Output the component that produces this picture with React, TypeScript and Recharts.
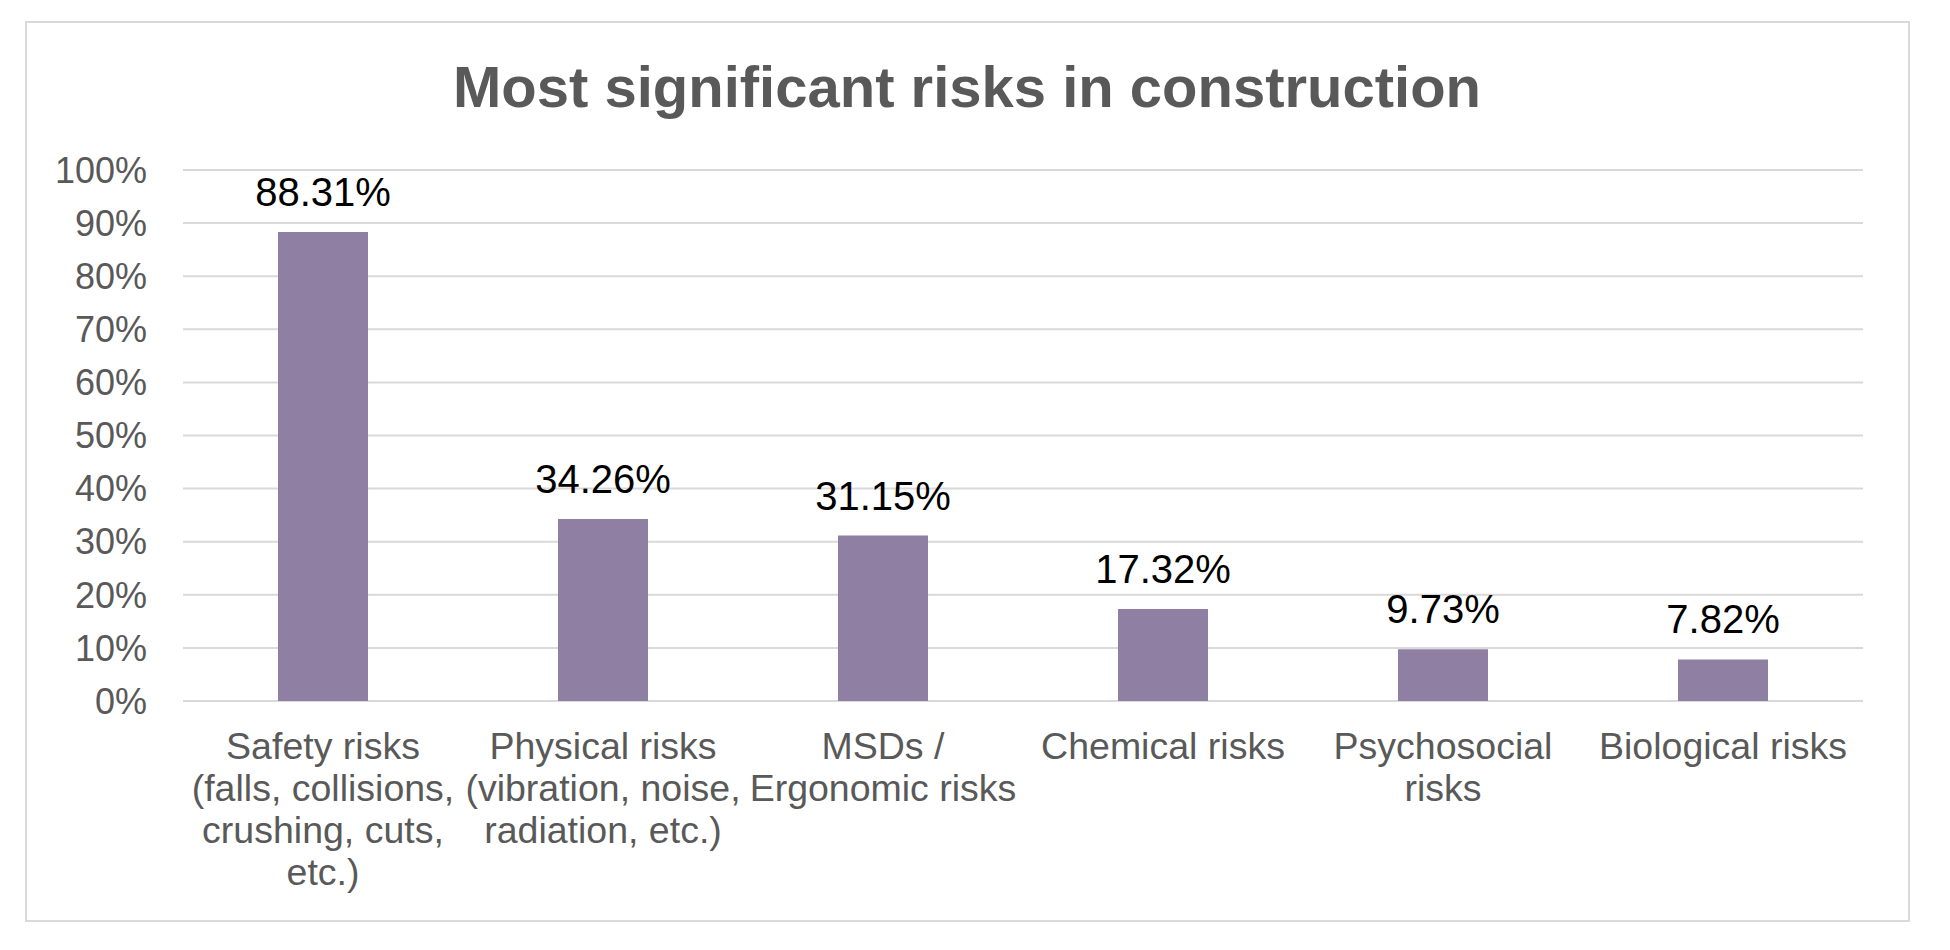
import { BarChart, Bar, XAxis, YAxis, CartesianGrid, LabelList } from 'recharts';

const FONT = '"Liberation Sans", Arial, sans-serif';

const TITLE = 'Most significant risks in construction';
const CATEGORIES = [
  'Safety risks\n(falls, collisions,\ncrushing, cuts,\netc.)',
  'Physical risks\n(vibration, noise,\nradiation, etc.)',
  'MSDs /\nErgonomic risks',
  'Chemical risks',
  'Psychosocial\nrisks',
  'Biological risks',
];
const SHARES = [88.31, 34.26, 31.15, 17.32, 9.73, 7.82];
const Y_TICKS = [0, 10, 20, 30, 40, 50, 60, 70, 80, 90, 100];

const data = CATEGORIES.map((c, i) => ({ cat: c, v: SHARES[i] }));

// multi-line category labels, one tspan per line
const CategoryTick = (props: any) => {
  const { x, y, payload } = props;
  const lines = String(payload.value).split('\n');
  return (
    <text x={x} y={y} textAnchor="middle" fill="#595959" fontSize={37.5} fontFamily={FONT}>
      {lines.map((l, i) => (
        <tspan key={i} x={x} dy={i === 0 ? 26 : 42}>{l}</tspan>
      ))}
    </text>
  );
};

export default function App() {
  return (
    <div style={{ position: 'absolute', left: 0, top: 0, width: 1950, height: 950, background: '#fff', fontFamily: FONT }}>
      <div style={{ position: 'absolute', left: 25, top: 21, width: 1881, height: 897, border: '2px solid #D9D9D9' }} />
      <div style={{ position: 'absolute', left: 0, top: 0 }}>
        <BarChart width={1950} height={950} data={data} margin={{ top: 170, right: 87, bottom: 49, left: 83 }}>
          <text x={967} y={107} textAnchor="middle" fill="#595959" fontSize={58} fontWeight="bold" fontFamily={FONT}>{TITLE}</text>
          <CartesianGrid vertical={false} stroke="#D9D9D9" strokeWidth={2} />
          <XAxis dataKey="cat" height={200} axisLine={false} tickLine={false} tickSize={0} tickMargin={32} interval={0} tick={<CategoryTick />} />
          <YAxis domain={[0, 100]} ticks={Y_TICKS} width={100} axisLine={false} tickLine={false} tickSize={0} tickMargin={36}
            tickFormatter={(v: number) => `${v}%`} tick={{ fill: '#595959', fontSize: 36, fontFamily: FONT }} />
          <Bar dataKey="v" fill="#8F80A3" barSize={90} isAnimationActive={false}>
            <LabelList dataKey="v" position="top" offset={26} fill="#000" fontSize={40} fontFamily={FONT}
              formatter={(v: any) => `${Number(v).toFixed(2)}%`} />
          </Bar>
        </BarChart>
      </div>
    </div>
  );
}
